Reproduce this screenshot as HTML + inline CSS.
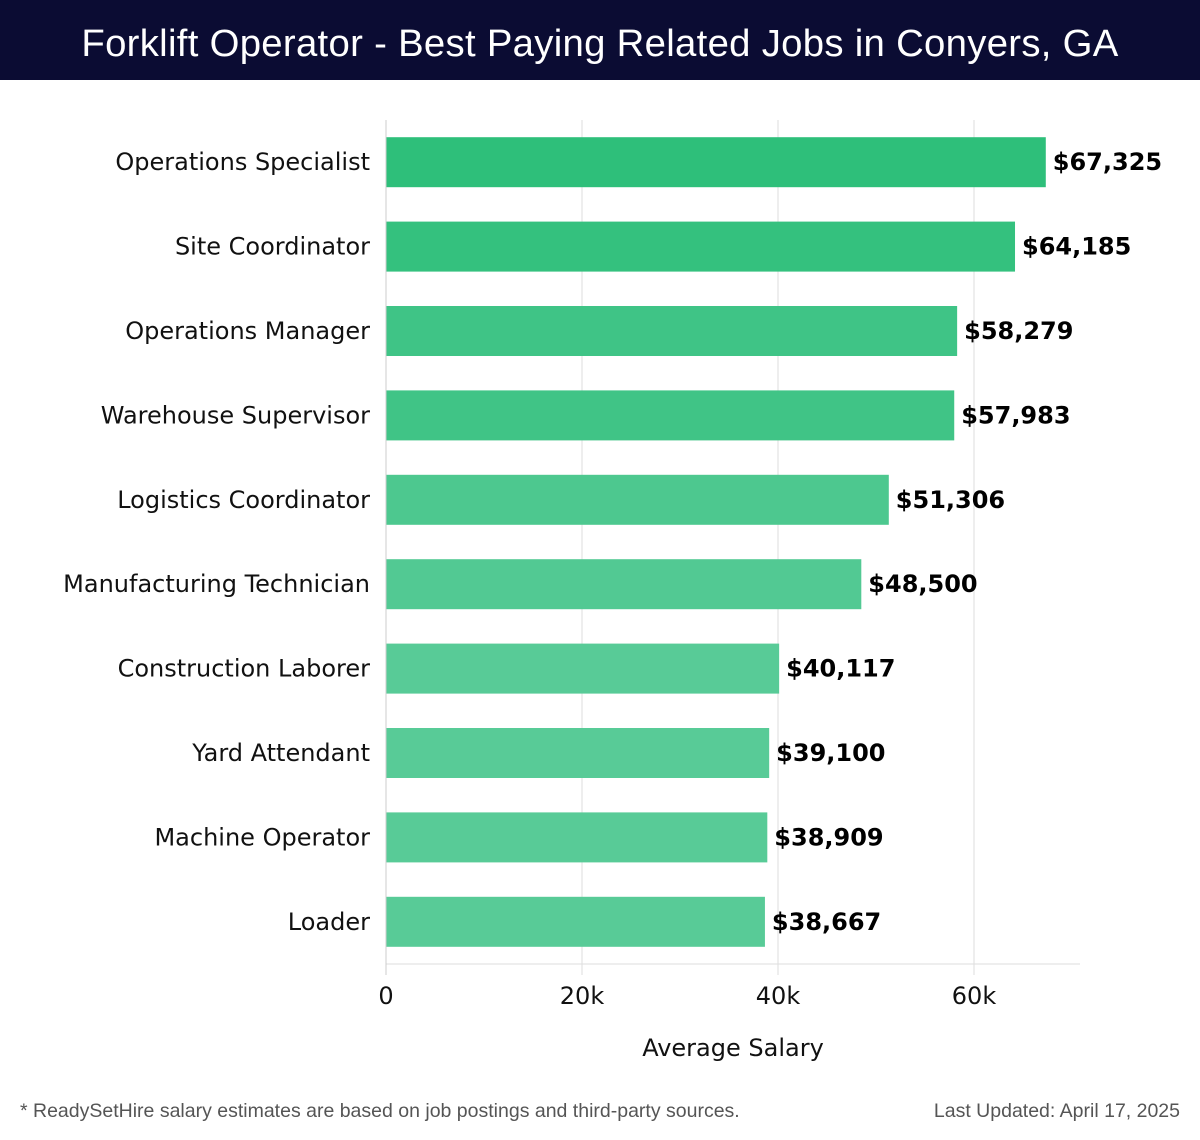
<!DOCTYPE html>
<html><head><meta charset="utf-8"><style>
html,body{margin:0;padding:0;background:#fff;width:1200px;height:1140px;overflow:hidden;font-family:"DejaVu Sans","Liberation Sans",sans-serif}
#hdr{position:absolute;left:0;top:0;width:1200px;height:80px;background:#0b0c33;color:#fff;font-size:38.3px;text-align:center;line-height:88px;font-family:"Liberation Sans",sans-serif;letter-spacing:0.3px}
.foot{position:absolute;top:1100px;font-size:19.5px;color:#555;font-family:"Liberation Sans",sans-serif}
</style></head><body>
<div id="hdr">Forklift Operator - Best Paying Related Jobs in Conyers, GA</div>
<svg id="chart" width="1200" height="1140" style="position:absolute;left:0;top:0"></svg>
<div class="foot" style="left:20px">* ReadySetHire salary estimates are based on job postings and third-party sources.</div>
<div class="foot" style="right:20px">Last Updated: April 17, 2025</div>
<script>
const categories=["Operations Specialist","Site Coordinator","Operations Manager","Warehouse Supervisor","Logistics Coordinator","Manufacturing Technician","Construction Laborer","Yard Attendant","Machine Operator","Loader"];
const salaries=[67325,64185,58279,57983,51306,48500,40117,39100,38909,38667];
const valueLabels=["$67,325","$64,185","$58,279","$57,983","$51,306","$48,500","$40,117","$39,100","$38,909","$38,667"];
const tickValues=[0,20000,40000,60000];
const tickLabels=["0","20k","40k","60k"];

const NS="http://www.w3.org/2000/svg";
const svg=document.getElementById('chart');
const x0=386, pxPer=196/20000, plotTop=120, plotBottom=964, xEnd=1080;
const step=(plotBottom-plotTop)/categories.length, barH=50;
const x=v=>x0+v*pxPer;
const yC=i=>plotTop+step*(i+0.5);
function mk(t,a){const e=document.createElementNS(NS,t);for(const k in a)e.setAttribute(k,a[k]);svg.appendChild(e);return e;}
tickValues.forEach((v,i)=>{
  const g=mk('line',{x1:x(v),x2:x(v),y1:plotTop,y2:975,stroke:'#dddddd','stroke-width':1});
  
  
  const t=mk('text',{x:x(v),y:1004,'text-anchor':'middle','font-size':24,fill:'#111'});
  t.textContent=tickLabels[i];
  
  
});
const ax=mk('line',{x1:x0,x2:xEnd,y1:plotBottom,y2:plotBottom,stroke:'#dddddd','stroke-width':1});


const xt=mk('text',{x:733,y:1056,'text-anchor':'middle','font-size':24,fill:'#111'});
xt.textContent='Average Salary';


const mn=Math.min(...salaries),mx=Math.max(...salaries);
const c1=[46,191,122],c2=[88,203,151];
categories.forEach((c,i)=>{
  const v=salaries[i];
  let t=(mx-v)/(mx-mn); t=Math.min(1,t*1.3);
  const col='rgb('+c1.map((a,k)=>Math.round(a+(c2[k]-a)*t)).join(',')+')';
  const b=mk('rect',{x:x0,y:yC(i)-barH/2,width:x(v)-x0,height:barH,fill:col});
  
  
  const l=mk('text',{x:370,y:yC(i)+8,'text-anchor':'end','font-size':24,fill:'#111'});
  l.textContent=c;
  
  
  const vl=mk('text',{x:x(v)+7,y:yC(i)+8,'font-size':24,'font-weight':'bold',fill:'#000'});
  vl.textContent=valueLabels[i];
  
  
});
const yl=mk('line',{x1:x0,x2:x0,y1:plotTop,y2:975,stroke:'#cccccc','stroke-width':1});


</script>
</body></html>
